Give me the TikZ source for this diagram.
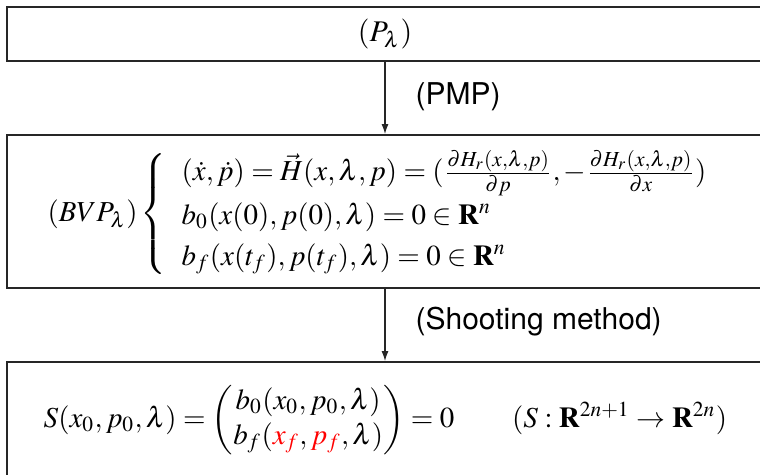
\documentclass[tikz,border=0pt]{standalone}
\usepackage{amsmath}
\usepackage{mathptmx}
\usepackage[no-math]{fontspec}
\newfontfamily\labelfont{TeX Gyre Heros}
\usetikzlibrary{arrows.meta,fit}
\begin{document}
\begin{tikzpicture}[x=0.3333pt,y=-0.3333pt,
  box/.style={draw=black!85,line width=0.6pt,inner sep=0pt,rectangle},
  conn/.style={draw=black!85,line width=0.4pt,-{Latex[length=3.3pt,width=2.3pt]}},
  lbl/.style={font=\labelfont,anchor=west,inner sep=0pt},
  eq/.style={anchor=west,inner sep=0pt,font=\fontsize{9.65}{11.6}\selectfont}]
\useasboundingbox (0,0) rectangle (760,475);
\node[box,fit={(7,7) (763,61)}] (b1) {};
\node[box,fit={(7,135) (763,288)}] (b2) {};
\node[box,fit={(7,362) (763,490)}] (b3) {};
\node[inner sep=0pt] (t1) at (b1.center) {$(P_\lambda)$};
\node[eq] (t2) at (47,214) {\renewcommand\arraystretch{1.18}$(BVP_\lambda)\left\{\begin{array}{l}
 (\dot x,\dot p)=\vec H(x,\lambda,p)=(\frac{\partial H_r(x,\lambda,p)}{\partial p},-\frac{\partial H_r(x,\lambda,p)}{\partial x})\\
 b_0(x(0),p(0),\lambda)=0\in\mathbf{R}^n\\
 b_f(x(t_f),p(t_f),\lambda)=0\in\mathbf{R}^n
 \end{array}\right.$};
\node[eq] (t3) at (43,420) {$S(x_0,p_0,\lambda)=\begin{pmatrix}b_0(x_0,p_0,\lambda)\\ b_f(\textcolor{red}{x_f},\textcolor{red}{p_f},\lambda)\end{pmatrix}=0\qquad(S:\mathbf{R}^{2n+1}\to\mathbf{R}^{2n})$};
\coordinate (ax) at (385,0);
\draw[conn] (b1.south -| ax) -- (b2.north -| ax);
\draw[conn] (b2.south -| ax) -- (b3.north -| ax);
\node[lbl] (l1) at (415,97) {(PMP)};
\node[lbl] (l2) at (415,322) {(Shooting method)};
\end{tikzpicture}
\end{document}
